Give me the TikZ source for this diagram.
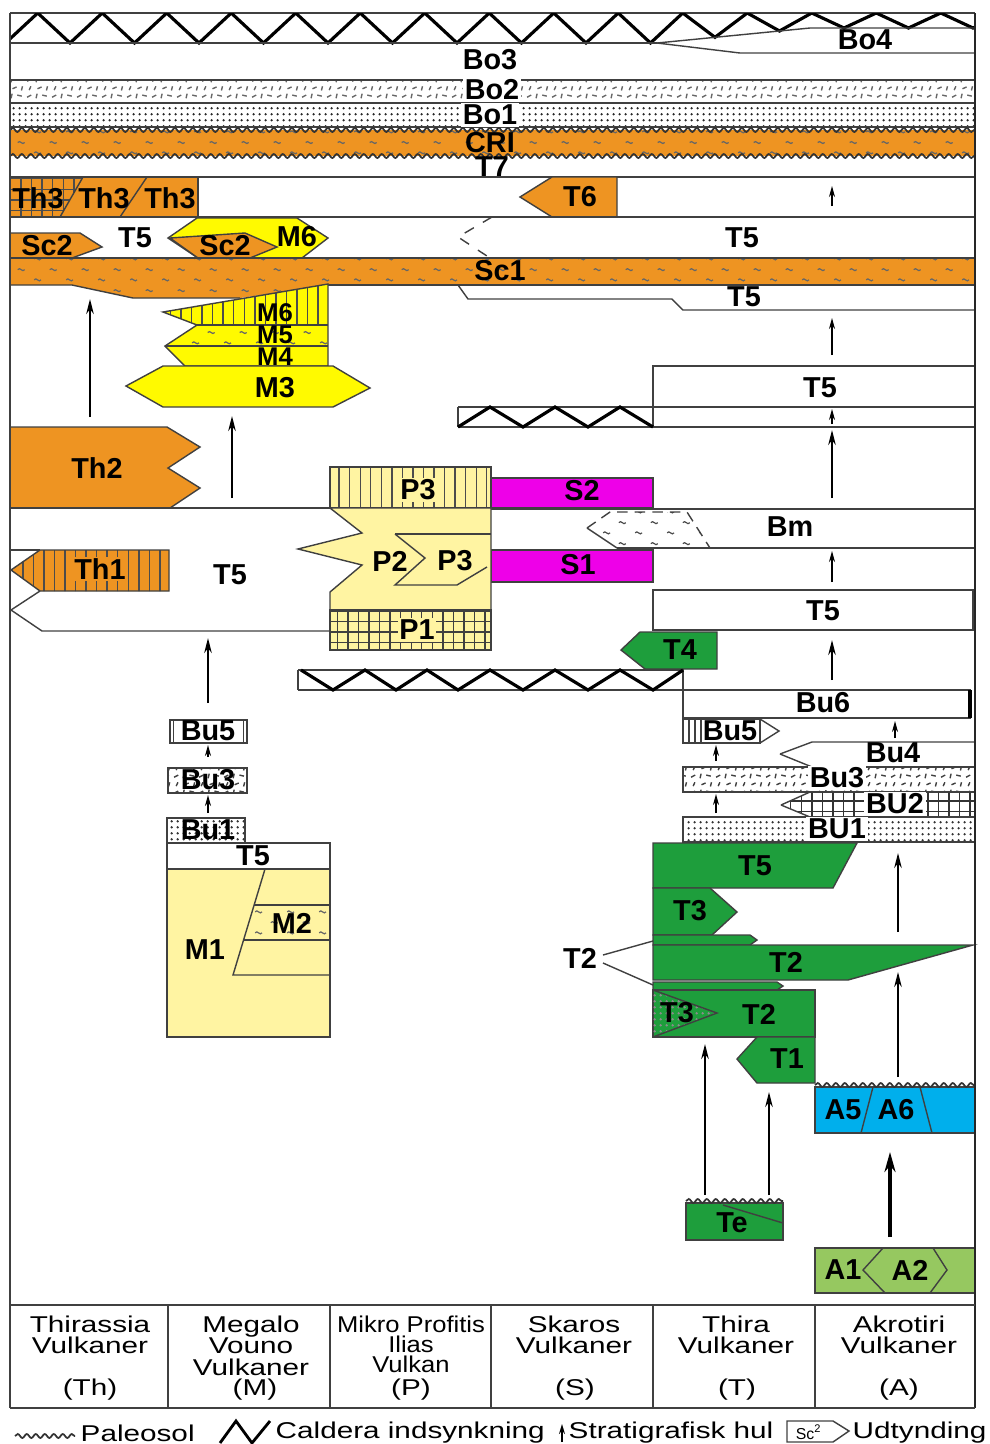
\documentclass[tikz,border=0pt]{standalone}
\usepackage{fontspec}
\setmainfont{Liberation Sans}
\newfontfamily\tabfont[FakeStretch=1.3]{Liberation Sans}
\newfontfamily\tabfontn[FakeStretch=1.12]{Liberation Sans}
\usetikzlibrary{arrows.meta, patterns, patterns.meta, decorations.pathmorphing}

\definecolor{thorange}{RGB}{238,148,34}
\definecolor{myellow}{RGB}{255,250,0}
\definecolor{pyellow}{RGB}{255,244,162}
\definecolor{smagenta}{RGB}{238,0,232}
\definecolor{tgreen}{RGB}{30,158,60}
\definecolor{ablue}{RGB}{0,175,236}
\definecolor{agreen}{RGB}{150,200,96}

\newcommand{\lblfont}{\fontsize{8.2}{9}\selectfont\bfseries}
\newcommand{\lblfontsm}{\fontsize{7.3}{8}\selectfont\bfseries}
\newcommand{\tabtxt}{\tabfont\fontsize{6.5}{6.1}\selectfont\lineskiplimit=-5pt}
\newcommand{\tabtxtn}{\tabfontn\fontsize{6.5}{5.7}\selectfont\lineskiplimit=-5pt}

\tikzdeclarepattern{name=tildes, type=uncolored,
  bounding box={(0pt,0pt) and (9pt,6pt)}, tile size={(9pt,6pt)},
  code={\draw[line width=0.35pt] (0.6pt,1.5pt) .. controls (1.3pt,2.5pt) and (1.9pt,0.5pt) .. (2.6pt,1.5pt);
        \draw[line width=0.35pt] (5.1pt,4.5pt) .. controls (5.8pt,5.5pt) and (6.4pt,3.5pt) .. (7.1pt,4.5pt);}}
\tikzdeclarepattern{name=finedots, type=uncolored,
  bounding box={(0pt,0pt) and (1.6pt,1.6pt)}, tile size={(1.6pt,1.6pt)},
  code={\fill (0.8pt,0.8pt) circle[radius=0.38pt];}}
\tikzdeclarepattern{name=flecks, type=uncolored,
  bounding box={(0pt,0pt) and (7pt,4.5pt)}, tile size={(7pt,4.5pt)},
  code={\draw[line width=0.4pt] (0.6pt,0.8pt)--(1.8pt,1.4pt) (3.2pt,0.5pt)--(3.5pt,1.8pt) (5pt,1.4pt)--(6.3pt,1.1pt)
        (1.2pt,2.8pt)--(1.7pt,3.9pt) (3.6pt,3.2pt)--(4.8pt,3.7pt) (6.2pt,2.7pt)--(6.5pt,3.9pt);}}

\tikzstyle{lay}=[draw=black!75, line width=0.4pt]
\tikzstyle{cald}=[draw=black, line width=0.9pt]
\tikzstyle{lbl}=[font=\lblfont, inner sep=0.5pt]
\tikzstyle{gap}=[-{Stealth[length=1.5mm, width=0.75mm]}, line width=0.5pt]
\tikzstyle{gapsm}=[-{Stealth[length=1.1mm, width=0.6mm]}, line width=0.45pt]
\tikzstyle{soil}=[draw=black!80, line width=0.5pt, decorate,
                  decoration={snake, amplitude=0.2mm, segment length=0.9mm}]
\tikzstyle{colhead}=[font=\tabtxt, align=center, inner sep=0pt]

\begin{document}
\begin{tikzpicture}[x=0.1mm, y=-0.1mm]
  \useasboundingbox (0,0) rectangle (990,1444);

  % caldera collapse on top, Bo4 wedge
  \draw[lay] (10,13) -- (975,13);
  \begin{scope}
    \clip (10,13) rectangle (975,53);
    \foreach \i in {-1,...,14}{
      \pgfmathsetmacro\xb{70+64.5*\i}
      \pgfmathsetmacro\yb{\xb<657 ? 43 : (\xb<810 ? 43-(\xb-657)*15/153 : 28)}
      \draw[cald] (\xb-32.25,13) -- (\xb,\yb) -- (\xb+32.25,13);
    }
  \end{scope}
  \draw[lay] (10,43) -- (657,43);
  \draw[lay] (657,43) -- (810,28) -- (975,28);
  \draw[lay] (657,43) -- (740,53) -- (975,53);
  \node[lbl] (bo4) at (865,40) {Bo4};
  \node[lbl] (bo3) at (490,60) {Bo3};
  \draw[lay] (10,80) -- (975,80);
  \fill[pattern=flecks, pattern color=black!60] (10,81) rectangle (975,101);
  \draw[lay] (10,103) -- (975,103);
  \fill[pattern=finedots, pattern color=black!85] (10,104) rectangle (975,127);
  \draw[lay] (10,127) -- (975,127);
  \node[lbl, fill=white] (bo2) at (492,90) {Bo2};
  \node[lbl, fill=white] (bo1) at (490,115) {Bo1};
  % CRI
  \fill[thorange] (10,130) rectangle (975,156);
  \fill[pattern=tildes, pattern color=black!60] (10,130) rectangle (975,156);
  \draw[soil] (10,130) -- (975,130);
  \draw[soil] (10,156) -- (975,156);
  \node[lbl] (cri) at (490,143) {CRI};
  \node[lbl] (t7) at (492,167) {T7};
  \draw[lay] (10,177) -- (975,177);

  % Th3 / T6 row
  \fill[thorange] (10,177) rectangle (198,217);
  \fill[pattern=grid, pattern color=black!70] (10,177) -- (83,177) -- (60,217) -- (10,217) -- cycle;
  \draw[lay] (10,177) rectangle (198,217);
  \draw[lay] (83,177) -- (60,217) (147,177) -- (120,217);
  \node[lbl] (th3a) at (38,198) {Th3};
  \node[lbl] (th3b) at (104,198) {Th3};
  \node[lbl] (th3c) at (170,198) {Th3};
  \filldraw[lay, fill=thorange] (520,197) -- (552,177) -- (617,177) -- (617,217) -- (552,217) -- cycle;
  \node[lbl] (t6) at (580,197) {T6};
  \draw[gapsm] (832,206) -- (832,186);
  \draw[lay] (10,217) -- (975,217);

  % Sc2 / M6 / T5 row
  \filldraw[lay, fill=thorange] (10,233) -- (80,233) -- (102,247) -- (72,258) -- (10,258) -- cycle;
  \filldraw[lay, fill=myellow] (168,238) -- (197,218) -- (297,218) -- (328,238) -- (302,258) -- (198,258) -- cycle;
  \filldraw[lay, fill=thorange] (170,238) -- (245,233) -- (277,247) -- (250,258) -- (198,258) -- cycle;
  \node[lbl] (sc2a) at (47,246) {Sc2};
  \node[lbl] (t5a) at (135,238) {T5};
  \node[lbl] (sc2b) at (225,246) {Sc2};
  \node[lbl] (m6a) at (297,237) {M6};
  \draw[lay, dashed] (492,217) -- (458,237) -- (490,258);
  \node[lbl] (t5b) at (742,238) {T5};

  % Sc1
  \fill[thorange] (10,258) -- (975,258) -- (975,285) -- (328,285) -- (240,298) -- (133,298) -- (72,285) -- (10,285) -- cycle;
  \fill[pattern=tildes, pattern color=black!60] (10,258) -- (975,258) -- (975,285) -- (328,285) -- (240,298) -- (133,298) -- (72,285) -- (10,285) -- cycle;
  \draw[lay] (10,258) -- (975,258);
  \draw[lay] (10,285) -- (72,285) -- (133,298) -- (240,298);
  \draw[lay] (328,285) -- (975,285);
  \node[lbl] (sc1) at (500,271) {Sc1};
  \draw[lay] (458,285) -- (468,299) -- (672,299) -- (683,310) -- (975,310);
  \node[lbl] (t5c) at (744,297) {T5};

  % Megalo Vouno M3-M6
  \fill[myellow] (163,312) -- (328,284) -- (328,325) -- (197,325) -- cycle;
  \fill[pattern=vertical lines, pattern color=black!70] (163,312) -- (328,284) -- (328,325) -- (197,325) -- cycle;
  \fill[myellow] (197,325) -- (328,325) -- (328,346) -- (165,346) -- cycle;
  \fill[pattern=tildes, pattern color=black!60] (197,325) -- (328,325) -- (328,346) -- (165,346) -- cycle;
  \fill[myellow] (165,346) -- (328,346) -- (328,366) -- (185,366) -- cycle;
  \draw[lay] (163,312) -- (328,284) -- (328,366) -- (185,366) -- (165,346) -- (197,325) -- cycle;
  \draw[lay] (197,325) -- (328,325) (165,346) -- (328,346);
  \filldraw[lay, fill=myellow] (126,386) -- (163,366) -- (333,366) -- (370,388) -- (333,407) -- (163,407) -- cycle;
  \node[lbl, font=\lblfontsm] (m6b) at (275,313) {M6};
  \node[lbl, font=\lblfontsm] (m5) at (275,335) {M5};
  \node[lbl, font=\lblfontsm] (m4) at (275,356.5) {M4};
  \node[lbl] (m3) at (275,388) {M3};
  \draw[gap] (90,417) -- (90,299);
  \draw[gap] (232,498) -- (232,416);

  % right column T5 and caldera
  \draw[gapsm] (832,355) -- (832,318);
  \draw[lay] (653,366) rectangle (975,407);
  \node[lbl] (t5d) at (820,388) {T5};
  \draw[lay] (458,407) -- (975,407) (458,427) -- (975,427) (458,407) -- (458,427) (653,407) -- (653,427);
  \draw[cald] (458,427) -- (490,407) -- (523,427) -- (555,407) -- (588,427) -- (620,407) -- (653,427);
  \draw[gapsm] (832,424) -- (832,409);
  \draw[gap] (832,498) -- (832,430);

  % Th2, P3, S2
  \filldraw[lay, fill=thorange] (10,427) -- (167,427) -- (200,447) -- (168,468) -- (200,488) -- (170,508) -- (10,508) -- cycle;
  \node[lbl] (th2) at (97,468) {Th2};
  \fill[pyellow] (330,467) rectangle (491,508);
  \fill[pattern=vertical lines, pattern color=black!70] (330,467) rectangle (491,508);
  \draw[lay] (330,467) rectangle (491,508);
  \node[lbl, fill=pyellow] (p3a) at (418,490) {P3};
  \filldraw[lay, fill=smagenta] (491,478) rectangle (653,508);
  \node[lbl] (s2) at (582,491) {S2};
  \draw[lay] (10,508) -- (330,508) (491,509) -- (975,509);

  % Bm, S1
  \fill[pattern=tildes, pattern color=black!70] (587,528) -- (610,512) -- (687,512) -- (710,548) -- (617,548) -- cycle;
  \draw[lay, densely dashed] (587,528) -- (610,512) -- (687,512) -- (710,548);
  \draw[lay] (587,528) -- (617,548);
  \draw[lay] (617,548) -- (975,548);
  \node[lbl] (bm) at (790,527) {Bm};
  \filldraw[lay, fill=smagenta] (491,550) rectangle (653,582);
  \node[lbl] (s1) at (578,565) {S1};
  \draw[gapsm] (832,582) -- (832,551);
  \draw[lay] (653,590) rectangle (973,630);
  \node[lbl] (t5e) at (823,611) {T5};

  % Mikro Profitis Ilias
  \filldraw[lay, fill=pyellow] (330,508) -- (491,508) -- (491,610) -- (330,610) -- (330,592) -- (362,565) -- (298,549) -- (362,533) -- cycle;
  \draw[lay] (395,534) -- (491,534);
  \draw[lay] (395,534) -- (425,558) -- (395,585) -- (457,585) -- (487,567);
  \node[lbl] (p2) at (390,561) {P2};
  \node[lbl] (p3b) at (455,561) {P3};
  \fill[pyellow] (330,610) rectangle (491,650);
  \fill[pattern=grid, pattern color=black!75] (330,610) rectangle (491,650);
  \draw[lay] (330,610) rectangle (491,650);
  \node[lbl, fill=pyellow] (p1) at (417,630) {P1};

  % Th1 and T5 left
  \fill[thorange] (11,570) -- (40,550) -- (169,550) -- (169,591) -- (40,591) -- cycle;
  \fill[pattern=vertical lines, pattern color=black!70] (11,570) -- (40,550) -- (169,550) -- (169,591) -- (40,591) -- cycle;
  \draw[lay] (11,570) -- (40,550) -- (169,550) -- (169,591) -- (40,591) -- cycle;
  \draw[lay] (10,550) -- (40,550);
  \draw[lay] (40,591) -- (11,610) -- (42,631) -- (330,631);
  \node[lbl, fill=thorange] (th1) at (100,569) {Th1};
  \node[lbl] (t5f) at (230,575) {T5};
  \draw[gap] (208,703) -- (208,638);

  % T4 and lower caldera
  \filldraw[lay, fill=tgreen] (621,650) -- (640,632) -- (717,632) -- (717,669) -- (645,669) -- cycle;
  \node[lbl] (t4) at (680,650) {T4};
  \draw[gap] (832,680) -- (832,640);
  \draw[lay] (298,670) -- (683,670) (298,690) -- (683,690) (298,670) -- (298,690) (683,669) -- (683,743);
  \draw[cald] (301,670) -- (333,690) -- (365,670) -- (396,690) -- (427,670) -- (458,690) -- (490,670)
    -- (523,690) -- (555,670) -- (588,690) -- (620,670) -- (653,690) -- (683,670);

  % Bu units, Thira column
  \draw[lay] (683,690) rectangle (970,718);
  \draw[line width=1.2pt] (970,690) -- (970,718);
  \node[lbl] (bu6) at (823,703) {Bu6};
  \draw[lay] (683,719) rectangle (760,743);
  \draw[lay] (689,719) -- (689,743) (695,719) -- (695,743) (701,719) -- (701,743);
  \draw[lay] (760,719) -- (779,731) -- (760,743);
  \node[lbl] (bu5b) at (730,731) {Bu5};
  \draw[gapsm] (895,738) -- (895,721);
  \draw[lay] (780,754) -- (812,742) -- (975,742) (780,754) -- (812,767);
  \node[lbl] (bu4) at (893,753) {Bu4};
  \draw[gapsm] (716,761) -- (716,745);
  \fill[pattern=flecks, pattern color=black!75] (683,767) rectangle (975,792);
  \draw[lay] (683,767) rectangle (975,792);
  \node[lbl, fill=white] (bu3b) at (837,778) {Bu3};
  \draw[gapsm] (716,813) -- (716,794);
  \fill[pattern=grid, pattern color=black!80] (781,805) -- (810,792) -- (975,792) -- (975,817) -- (810,817) -- cycle;
  \draw[lay] (781,805) -- (810,792) -- (975,792) (781,805) -- (810,817) -- (975,817);
  \node[lbl, fill=white] (bu2) at (895,804) {BU2};
  \fill[pattern=finedots, pattern color=black!80] (683,817) rectangle (975,842);
  \draw[lay] (683,817) rectangle (975,842);
  \node[lbl, fill=white] (bu1b) at (837,829) {BU1};
  \draw[gap] (898,932) -- (898,853);

  % Thira green units
  \filldraw[lay, fill=tgreen] (653,843) -- (857,843) -- (833,888) -- (653,888) -- cycle;
  \node[lbl] (t5g) at (755,866) {T5};
  \filldraw[lay, fill=tgreen] (653,888) -- (710,888) -- (737,912) -- (712,935) -- (653,935) -- cycle;
  \node[lbl] (t3a) at (690,911) {T3};
  \filldraw[lay, fill=tgreen] (653,935) -- (750,935) -- (757,940) -- (750,945) -- (653,945) -- cycle;
  \filldraw[lay, fill=tgreen] (653,945) -- (973,945) -- (848,980) -- (653,980) -- cycle;
  \node[lbl] (t2a) at (786,962) {T2};
  \filldraw[lay, fill=tgreen] (653,982) -- (777,982) -- (783,986) -- (777,990) -- (653,990) -- cycle;
  \node[lbl] (t2l) at (580,958) {T2};
  \draw[lay] (603,955) -- (653,941) (603,963) -- (653,985);
  \filldraw[lay, fill=tgreen] (653,990) rectangle (815,1037);
  \fill[pattern=finedots, pattern color=black!45] (653,990) -- (717,1013) -- (653,1037) -- cycle;
  \draw[lay] (653,990) -- (717,1013) -- (653,1037);
  \node[lbl] (t3b) at (677,1013) {T3};
  \node[lbl] (t2b) at (759,1014) {T2};
  \filldraw[lay, fill=tgreen] (737,1059) -- (757,1037) -- (815,1037) -- (815,1083) -- (757,1083) -- cycle;
  \node[lbl] (t1) at (787,1059) {T1};
  \draw[gap] (705,1195) -- (705,1044);
  \draw[gap] (769,1195) -- (769,1092);
  \draw[gap] (898,1077) -- (898,972);
  \filldraw[lay, fill=tgreen] (686,1203) rectangle (783,1240);
  \draw[lay] (723,1205) -- (783,1223);
  \draw[soil] (686,1201) -- (783,1201);
  \node[lbl] (te) at (732,1223) {Te};

  % Akrotiri
  \filldraw[lay, fill=ablue] (815,1087) rectangle (975,1133);
  \draw[lay] (873,1087) -- (861,1133) (920,1087) -- (932,1133);
  \draw[soil] (815,1085) -- (975,1085);
  \node[lbl] (a5) at (843,1110) {A5};
  \node[lbl] (a6) at (896,1110) {A6};
  \draw[-{Stealth[length=2mm, width=1.1mm]}, line width=1.1pt] (890,1237) -- (890,1152);
  \filldraw[lay, fill=agreen] (815,1248) rectangle (975,1293);
  \draw[lay] (883,1248) -- (863,1270) -- (885,1293) (933,1248) -- (947,1270) -- (930,1293);
  \node[lbl] (a1) at (843,1270) {A1};
  \node[lbl] (a2) at (910,1270) {A2};

  % Megalo Vouno lower part
  \draw[lay] (170,720) rectangle (247,743);
  \draw[lay] (173.5,720) -- (173.5,743) (243.5,720) -- (243.5,743);
  \node[lbl] (bu5a) at (208,731) {Bu5};
  \draw[gapsm] (208,757) -- (208,745);
  \fill[pattern=flecks, pattern color=black!75] (168,768) rectangle (247,793);
  \draw[lay] (168,768) rectangle (247,793);
  \node[lbl] (bu3a) at (208,780) {Bu3};
  \draw[gapsm] (208,813) -- (208,795);
  \fill[pattern=finedots, pattern color=black!80] (167,818) rectangle (245,843);
  \draw[lay] (167,818) rectangle (245,843);
  \node[lbl] (bu1a) at (208,830) {Bu1};
  \draw[lay] (167,843) rectangle (330,869);
  \node[lbl] (t5h) at (253,856) {T5};
  \filldraw[lay, fill=pyellow] (167,869) rectangle (330,1037);
  \fill[pattern=tildes, pattern color=black!60] (254,905) -- (330,905) -- (330,940) -- (244,940) -- cycle;
  \draw[lay] (265,869) -- (233,975) -- (330,975);
  \draw[lay] (254,905) -- (330,905) (244,940) -- (330,940);
  \node[lbl] (m1) at (205,950) {M1};
  \node[lbl] (m2) at (292,923) {M2};

  % frame and volcano table
  \draw[lay] (10,13) -- (10,1408);
  \draw[draw=black!85, line width=0.8pt] (975,13) -- (975,1408);
  \draw[lay] (10,1305) -- (975,1305) (10,1408) -- (975,1408);
  \foreach \cx in {168,330,491,653,815}
    \draw[lay] (\cx,1305) -- (\cx,1408);
  \node[colhead, anchor=north] (cth) at (90,1315) {Thirassia\\Vulkaner};
  \node[colhead, anchor=north] (cm) at (251,1315) {Megalo\\Vouno\\Vulkaner};
  \node[colhead, anchor=north, font=\tabtxtn] (cp) at (411,1315) {Mikro Profitis\\Ilias\\Vulkan};
  \node[colhead, anchor=north] (cs) at (574,1315) {Skaros\\Vulkaner};
  \node[colhead, anchor=north] (ct) at (736,1315) {Thira\\Vulkaner};
  \node[colhead, anchor=north] (ca) at (899,1315) {Akrotiri\\Vulkaner};
  \node[colhead] (ath) at (90,1390) {(Th)};
  \node[colhead] (am) at (255,1390) {(M)};
  \node[colhead] (ap) at (411,1390) {(P)};
  \node[colhead] (as) at (575,1390) {(S)};
  \node[colhead] (at) at (737,1390) {(T)};
  \node[colhead] (aa) at (899,1390) {(A)};

  % legend
  \draw[soil] (15,1436) -- (75,1436);
  \node[colhead, anchor=west] (lpal) at (80,1433) {Paleosol};
  \draw[line width=0.8pt] (220,1443) -- (236,1421) -- (252,1443) -- (270,1421);
  \node[colhead, anchor=west] (lcal) at (275,1433) {Caldera indsynkning};
  \draw[-{Stealth[length=1mm, width=0.6mm]}, line width=0.4pt] (562,1442) -- (562,1424);
  \node[colhead, anchor=west] (lhul) at (568,1433) {Stratigrafisk hul};
  \draw[lay] (833,1421) -- (787,1421) -- (787,1442) -- (833,1442) (833,1421) -- (849,1431) -- (833,1442);
  \node[font=\fontsize{4.5}{5}\selectfont, inner sep=0pt] (lsc) at (809,1432) {Sc\textsuperscript{2}};
  \node[colhead, anchor=west] (ludt) at (852,1433) {Udtynding};
\end{tikzpicture}
\end{document}
